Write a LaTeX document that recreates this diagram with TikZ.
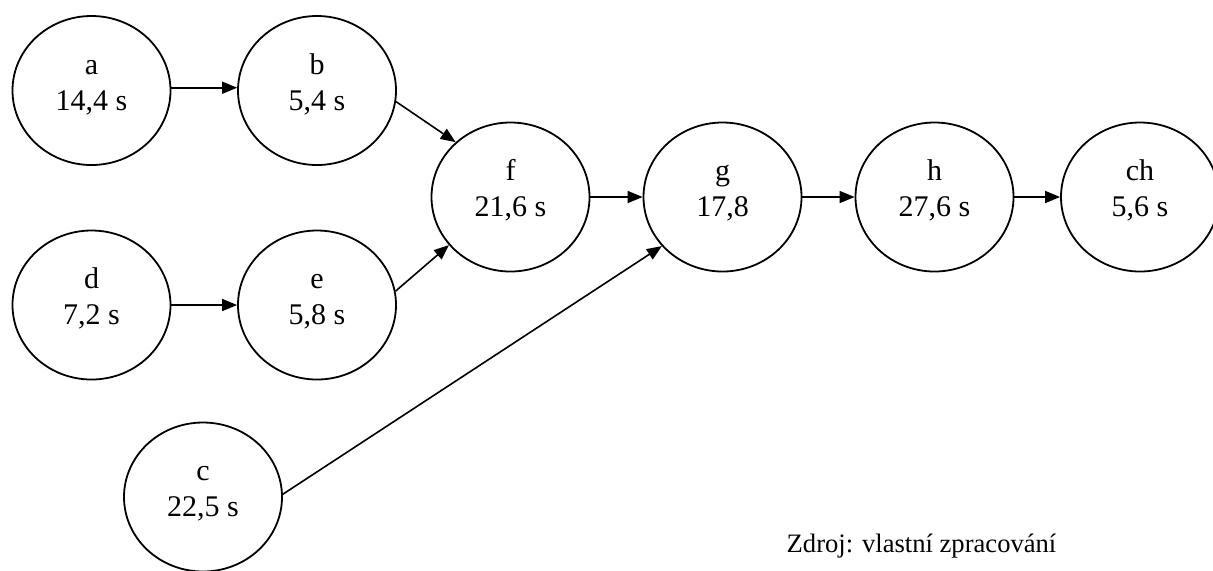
\documentclass[tikz,border=0pt]{standalone}
\usepackage{fontspec}
\setmainfont{Liberation Serif}
\usetikzlibrary{shapes.geometric,arrows.meta}
\newcommand{\twolines}[2]{\strut#1\\#2\rule[-11pt]{0pt}{0pt}}
\begin{document}
\begin{tikzpicture}[x=0.5pt,y=-0.5pt,
  proc/.style={ellipse,draw,line width=0.9pt,minimum width=79pt,minimum height=74.5pt,
    inner sep=0pt,align=center,font=\fontsize{15pt}{18pt}\selectfont},
  conn/.style={line width=0.8pt,-{Triangle[length=7.5pt,width=6pt]}},
  caption/.style={anchor=base,inner sep=0pt,font=\fontsize{13.3pt}{16pt}\selectfont}]
\useasboundingbox (0,0) rectangle (1213,570);
\node[proc] (a)  at (91.5,90.5) {\twolines{a}{14,4 s}};
\node[proc] (b)  at (317,90.5)  {\twolines{b}{5,4 s}};
\node[proc] (d)  at (91.5,305)  {\twolines{d}{7,2 s}};
\node[proc] (e)  at (317,305)   {\twolines{e}{5,8 s}};
\node[proc] (f)  at (510.5,197) {\twolines{f}{21,6 s}};
\node[proc] (g)  at (722.5,197) {\twolines{g}{17,8}};
\node[proc] (h)  at (934.5,197) {\twolines{h}{27,6 s}};
\node[proc] (ch) at (1140,197)  {\twolines{ch}{5,6 s}};
\node[proc] (c)  at (203,497)   {\twolines{c}{22,5 s}};
\node[caption] (src) at (921.5,552) {Zdroj: vlastní zpracování};
\draw[conn] (a.2.5) -- (b.178.5);
\draw[conn] (d.east) -- (e.west);
\draw[conn] (b.-8.4) -- (f.135.7);
\draw[conn] (e.10.9) -- (f.218.4);
\draw[conn] (c.2) -- (g.219.6);
\draw[conn] (f.east) -- (g.west);
\draw[conn] (g.east) -- (h.west);
\draw[conn] (h.east) -- (ch.west);
\end{tikzpicture}
\end{document}
